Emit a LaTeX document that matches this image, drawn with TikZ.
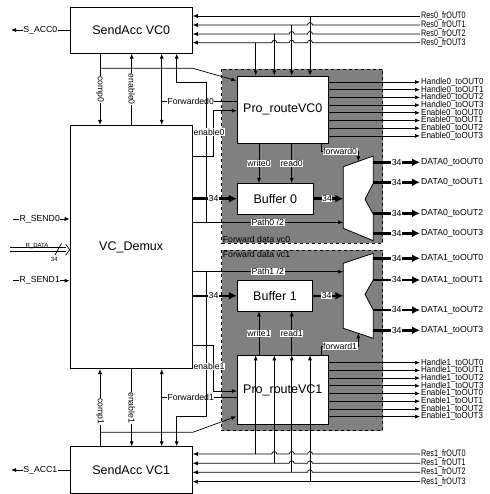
\documentclass[tikz,border=0pt]{standalone}
\usepackage{fontspec}
\setmainfont{Liberation Sans}
\usetikzlibrary{arrows.meta,calc}
\newcommand\bigfont{\fontsize{12.5}{14}\selectfont}
\newcommand\sigfont{\fontsize{8.7}{9}\selectfont}
\newcommand\outfont{\fontsize{8}{8}\selectfont}
\newcommand\resfont{\fontsize{7.2}{8}\selectfont}
\newcommand\tinyfont{\fontsize{6}{6}\selectfont}
% hop over a crossing wire (path is drawn right to left)
\newcommand\hopat[2]{-- (#1+2.5,#2) arc[start angle=0,end angle=-180,radius=2.5]}
\tikzset{
  blk/.style={draw, fill=white, line width=0.8pt, font=\bigfont, inner sep=0pt},
  sig/.style={line width=0.7pt},
  arr/.style={-{Latex[length=5pt,width=4pt]}},
  arrtwo/.style={{Latex[length=5pt,width=4pt]}-{Latex[length=5pt,width=4pt]}},
  bus/.style={line width=2.6pt, -{Latex[length=8pt,width=8pt]}},
  lbl/.style={fill=white, inner sep=0.6pt, font=\sigfont},
  outl/.style={anchor=west, inner sep=1pt, font=\outfont},
  resl/.style={anchor=west, inner sep=1pt, font=\resfont, yscale=1.3},
  fwdarea/.style={fill=gray, draw=black, dashed, line width=0.6pt},
}

\begin{document}
\begin{tikzpicture}[x=1pt, y=-1pt, font=\sigfont]
  \useasboundingbox (0,0) rectangle (489,494);
  % forward data areas
  \draw[fwdarea] (221.7,69.3) rectangle (382.7,243.3);
  \draw[fwdarea] (221.7,250) rectangle (382.7,430.7);
  \node[anchor=south west, inner sep=1pt] (fwd0) at (221.7,243.3) {Forward data vc0};
  \node[anchor=north west, inner sep=1pt] (fwd1) at (221.7,250) {Forward data vc1};

  % blocks
  \node[blk, minimum width=122.3pt, minimum height=46pt]    (sacc0)  at (131.2,30.3)  {SendAcc VC0};
  \node[blk, minimum width=122.3pt, minimum height=46.6pt]  (sacc1)  at (131.2,470)   {SendAcc VC1};
  \node[blk, minimum width=122.3pt, minimum height=243.4pt] (demux)  at (131.2,247)   {VC\_Demux};
  \node[blk, minimum width=91pt, minimum height=67.3pt]     (route0) at (282.8,109.7) {Pro\_routeVC0};
  \node[blk, minimum width=91pt, minimum height=68.3pt]     (route1) at (282.8,389.9) {Pro\_routeVC1};
  \node[blk, minimum width=76pt, minimum height=30.7pt]     (buf0)   at (275.3,198.7) {Buffer 0};
  \node[blk, minimum width=75.4pt, minimum height=30.3pt]   (buf1)   at (275,295.8)   {Buffer 1};

  % output muxes
  \draw[line width=0.8pt, fill=white] (343.3,166.7) -- (373.3,156) coordinate[pos=0.5] (m0top)
    -- (373.3,183.3) -- (365,199.3) -- (373.3,214.3) -- (373.3,240.7) -- (343.3,228.3) -- cycle;
  \draw[line width=0.8pt, fill=white] (343.3,263.3) -- (373.3,253.3) -- (373.3,280) -- (365,294.3)
    -- (373.3,310) -- (373.3,338.3) -- (343.3,328.3) coordinate[pos=0.5] (m1bot) -- cycle;
  \coordinate (mx) at (343.3,0);

  % wire columns
  \coordinate (xc)  at (100,0);
  \coordinate (xe)  at (131.7,0);
  \coordinate (xf)  at (161.7,0);
  \coordinate (xp)  at (176.7,0);
  \coordinate (xq)  at (206,0);
  \coordinate (xr)  at (213.3,0);
  \coordinate (xw)  at (259,0);
  \coordinate (xrd) at (291.7,0);
  \coordinate (xfw) at (321,0);

  % ---- VC0 side ----
  \draw[sig,arr] (xc |- sacc0.south) -- (xc |- demux.north) node[lbl, rotate=-90, midway] (lcomp0) {comp0};
  \coordinate (c0a) at (100,68.3);
  \draw[sig,arr] (c0a) -- (sacc0.east |- c0a) -- ($(route0.north west)+(-0.6,5)$);
  \draw[sig,arr] (xe |- demux.north) -- (xe |- sacc0.south) node[lbl, rotate=-90, midway] (len0) {enable0};
  \draw[sig,arrtwo] (xf |- sacc0.south) -- (xf |- demux.north);
  \coordinate (fw0) at (161.7,101);
  \draw[sig] (fw0) -- (route0.west |- fw0) node[lbl, pos=0.385] (lfw0) {Forwarded0};
  \coordinate (p0) at (192.3,222.3);
  \coordinate (pb0) at (206,82.7);
  \draw[sig,arr] (xq |- p0) -- (pb0) -- (xp |- pb0) -- (xp |- sacc0.south);
  \draw[sig,arr] (p0) -- (mx |- p0) node[lbl, pos=0.5] (lpath0) {Path0 /2};
  \coordinate (e0) at (192.3,156);
  \coordinate (e0b) at (213.3,110.7);
  \draw[sig,arr] (e0) -- (xr |- e0) -- (e0b) -- (route0.west |- e0b);
  \node[lbl] (le0) at (209,132) {enable0};
  \draw[bus] (demux.east |- buf0.west) -- (buf0.west) node[lbl, pos=0.47] (lb0in) {34};
  \draw[bus] (buf0.east) -- (mx |- buf0.east) node[lbl, pos=0.45] (lb0out) {34};
  \draw[sig,arr] (xw |- route0.south) -- (xw |- buf0.north) node[lbl, midway] (lwr0) {write0};
  \draw[sig,arr] (xrd |- route0.south) -- (xrd |- buf0.north) node[lbl, midway] (lrd0) {read0};
  \coordinate (fa0) at (321,151.7);
  \draw[sig,arr] (xfw |- route0.south) -- (fa0) -- (m0top |- fa0) -- (m0top);
  \node[lbl, anchor=west] (lfa0) at (322.3,151.7) {forward0};

  % ---- VC1 side ----
  \draw[sig,arr] (xc |- sacc1.north) -- (xc |- demux.south) node[lbl, rotate=-90, pos=0.45] (lcomp1) {comp1};
  \coordinate (c1a) at (100,432.3);
  \draw[sig,arr] (c1a) -- (sacc1.east |- c1a) -- ($(route1.south west)+(-0.6,-8)$);
  \draw[sig,arr] (xe |- demux.south) -- (xe |- sacc1.north) node[lbl, rotate=-90, midway] (len1) {enable1};
  \draw[sig,arrtwo] (xf |- demux.south) -- (xf |- sacc1.north);
  \coordinate (fw1) at (161.7,397.3);
  \draw[sig] (fw1) -- (route1.west |- fw1) node[lbl, pos=0.385] (lfw1) {Forwarded1};
  \coordinate (p1) at (192.3,271.7);
  \coordinate (pb1) at (206,416.3);
  \draw[sig,arr] (xq |- p1) -- (pb1) -- (xp |- pb1) -- (xp |- sacc1.north);
  \draw[sig,arr] (p1) -- (mx |- p1) node[lbl, pos=0.5] (lpath1) {Path1 /2};
  \coordinate (e1) at (192.3,345);
  \coordinate (e1b) at (213.3,391);
  \draw[sig,arr] (e1) -- (xr |- e1) -- (e1b) -- (route1.west |- e1b);
  \node[lbl] (le1) at (209,366.7) {enable1};
  \draw[bus] (demux.east |- buf1.west) -- (buf1.west) node[lbl, pos=0.47] (lb1in) {34};
  \draw[bus] (buf1.east) -- (mx |- buf1.east) node[lbl, pos=0.45] (lb1out) {34};
  \draw[sig,arr] (xw |- route1.north) -- (xw |- buf1.south) node[lbl, midway] (lwr1) {write1};
  \draw[sig,arr] (xrd |- route1.north) -- (xrd |- buf1.south) node[lbl, midway] (lrd1) {read1};
  \coordinate (fa1) at (321,346);
  \draw[sig,arr] (xfw |- route1.north) -- (fa1) -- (m1bot |- fa1) -- (m1bot);
  \node[lbl, anchor=west] (lfa1) at (322.3,346) {forward1};

  % data outputs
  \foreach \y [count=\i from 0] in {162.3,182.3,213.3,233.3} {
    \node[outl, font=\sigfont] (d0-\i) at (420,\y) {DATA0\_toOUT\i};
    \draw[bus] (373.3,\y) -- (d0-\i.west);
    \node[lbl] (n0-\i) at (396.7,\y) {34};
  }
  \foreach \y [count=\i from 0] in {258.3,280,310,330.3} {
    \node[outl, font=\sigfont] (d1-\i) at (420,\y) {DATA1\_toOUT\i};
    \draw[bus] (373.3,\y) -- (d1-\i.west);
    \node[lbl] (n1-\i) at (396.7,\y) {34};
  }

  % handle / enable outputs
  \foreach \t [count=\i from 0] in {Handle0\_toOUT0,Handle0\_toOUT1,Handle0\_toOUT2,Handle0\_toOUT3,
      Enable0\_toOUT0,Enable0\_toOUT1,Enable0\_toOUT2,Enable0\_toOUT3} {
    \node[outl, yscale=1.1] (o0-\i) at (420,82+7.7*\i) {\t};
    \draw[sig,arr] (route0.east |- o0-\i.west) -- (o0-\i.west);
  }
  \foreach \t [count=\i from 0] in {Handle1\_toOUT0,Handle1\_toOUT1,Handle1\_toOUT2,Handle1\_toOUT3,
      Enable1\_toOUT0,Enable1\_toOUT1,Enable1\_toOUT2,Enable1\_toOUT3} {
    \node[outl, yscale=1.1] (o1-\i) at (420,362.7+7.7*\i) {\t};
    \draw[sig,arr] (route1.east |- o1-\i.west) -- (o1-\i.west);
  }

  % result inputs
  \foreach \y [count=\i from 0] in {16,25,34,42.7}
    \node[resl] (r0-\i) at (420,\y) {Res0\_frOUT\i};
  \foreach \y [count=\i from 0] in {454,463.3,472.3,481.7}
    \node[resl] (r1-\i) at (420,\y) {Res1\_frOUT\i};
  \draw[sig,arr] (r0-0.west) -- (sacc0.east |- r0-0.west);
  \draw[sig,arr] (r0-1.west) \hopat{310}{25} -- (sacc0.east |- r0-1.west);
  \draw[sig,arr] (r0-2.west) \hopat{310}{34} \hopat{291.7}{34} -- (sacc0.east |- r0-2.west);
  \draw[sig,arr] (r0-3.west) \hopat{310}{42.7} \hopat{291.7}{42.7} \hopat{274.3}{42.7} -- (sacc0.east |- r0-3.west);
  \foreach \x/\i in {310/0,291.7/1,274.3/2,255.7/3} {
    \coordinate (v0-\i) at (\x,0);
    \draw[sig,arr] (v0-\i |- r0-\i.west) -- (v0-\i |- route0.north);
  }
  \draw[sig,arr] (r1-0.west) \hopat{310}{454} \hopat{291.7}{454} \hopat{274.3}{454} -- (sacc1.east |- r1-0.west);
  \draw[sig,arr] (r1-1.west) \hopat{310}{463.3} \hopat{291.7}{463.3} -- (sacc1.east |- r1-1.west);
  \draw[sig,arr] (r1-2.west) \hopat{310}{472.3} -- (sacc1.east |- r1-2.west);
  \draw[sig,arr] (r1-3.west) -- (sacc1.east |- r1-3.west);
  \foreach \x/\i in {255.7/0,274.3/1,291.7/2,310/3} {
    \coordinate (v1-\i) at (\x,0);
    \draw[sig,arr] (v1-\i |- r1-\i.west) -- (v1-\i |- route1.north);
  }

  % left side
  \coordinate (sa0) at (11,30);
  \coordinate (sa1) at (11,470);
  \draw[sig,arr] (sacc0.west |- sa0) -- (sa0) node[lbl, pos=0.5] (lsa0) {S\_ACC0};
  \draw[sig,arr] (sacc1.west |- sa1) -- (sa1) node[lbl, pos=0.5] (lsa1) {S\_ACC1};
  \coordinate (rs0) at (13.3,219);
  \coordinate (rs1) at (13.3,280.7);
  \draw[sig,arr] (rs0) -- (demux.west |- rs0) node[lbl, pos=0.47] (lrs0) {R\_SEND0};
  \draw[sig,arr] (rs1) -- (demux.west |- rs1) node[lbl, pos=0.47] (lrs1) {R\_SEND1};
  % data bus
  \coordinate (rd) at (10,249.7);
  \draw[sig] ($(rd)+(0,-2)$) -- ($(demux.west |- rd)+(-3.5,-2)$);
  \draw[sig] ($(rd)+(0,2)$) -- ($(demux.west |- rd)+(-3.5,2)$);
  \draw[sig] ($(demux.west |- rd)+(-4,-5.5)$) -- (demux.west |- rd) -- ($(demux.west |- rd)+(-4,5.5)$);
  \draw[sig] (55,255) -- (61.5,243.5);
  \node[font=\tinyfont, inner sep=0pt] (lrdata) at (37,246.3) {R\_DATA};
  \node[font=\tinyfont, inner sep=0pt] (lrdw) at (54.3,259.5) {34};
\end{tikzpicture}
\end{document}
